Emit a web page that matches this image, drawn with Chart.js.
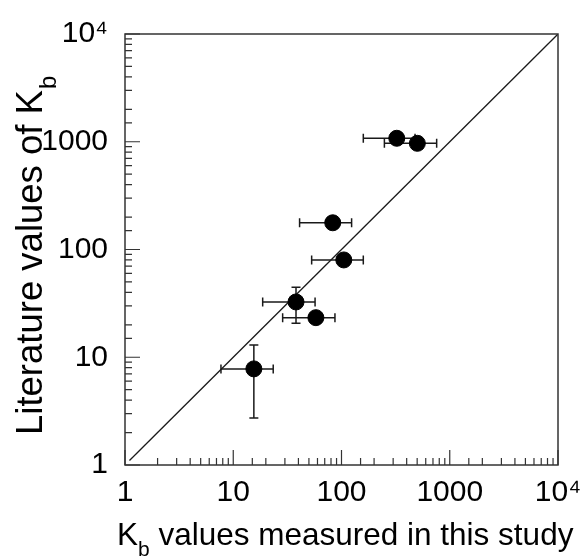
<!DOCTYPE html>
<html>
<head>
<meta charset="utf-8">
<script src="https://cdn.jsdelivr.net/npm/chart.js@4"></script>
<style>
  html, body { margin: 0; padding: 0; background: #fff; }
  #wrap { width: 582px; height: 559px; position: relative; }
</style>
</head>
<body>
<div id="wrap"><canvas id="kbChart"></canvas></div>
<script>
// Kb: valores medidos (x) vs literatura (y)
const pointsX = [15.5, 38, 58, 83, 105, 324, 502];
const pointsY = [7.8, 32.6, 23.3, 177, 80, 1077, 967];
const xErrLow = [7.7, 18.7, 28.6, 41, 53, 159, 249];
const xErrHigh = [23.4, 57, 87, 124, 159, 478, 757];
const yErrLow = [2.73, 20.7, null, null, null, null, null];
const yErrHigh = [13, 44.6, null, null, null, null, null];
const diagX = [1.1, 10000];
const diagY = [1.1, 10000];
const majorTicks = [1, 10, 100, 1000, 10000];
const tickLabels = ['1', '10', '100', '1000', '10\u2074'];

const FONT = "'Liberation Sans', Arial, sans-serif";
const INK = '#1a1a1a';

function tickLabel(value) {
  const i = majorTicks.indexOf(Math.round(value));
  if (i >= 0 && Math.abs(value - majorTicks[i]) < 1e-6) return tickLabels[i];
  return '';
}
function isMajor(v) {
  const l = Math.log10(v);
  return Math.abs(l - Math.round(l)) < 1e-9;
}

// barras de erro (antes dos pontos)
const errorBars = {
  id: 'errorBars',
  beforeDatasetsDraw(chart) {
    const { ctx, scales: { x, y } } = chart;
    const cap = 4.5;
    ctx.save();
    ctx.strokeStyle = INK;
    ctx.lineWidth = 1.5;
    pointsX.forEach((vx, i) => {
      const px = x.getPixelForValue(vx), py = y.getPixelForValue(pointsY[i]);
      const x1 = x.getPixelForValue(xErrLow[i]), x2 = x.getPixelForValue(xErrHigh[i]);
      ctx.beginPath();
      ctx.moveTo(x1, py); ctx.lineTo(x2, py);
      ctx.moveTo(x1, py - cap); ctx.lineTo(x1, py + cap);
      ctx.moveTo(x2, py - cap); ctx.lineTo(x2, py + cap);
      ctx.stroke();
      if (yErrLow[i] != null) {
        const y1 = y.getPixelForValue(yErrLow[i]), y2 = y.getPixelForValue(yErrHigh[i]);
        ctx.beginPath();
        ctx.moveTo(px, y1); ctx.lineTo(px, y2);
        ctx.moveTo(px - cap, y1); ctx.lineTo(px + cap, y1);
        ctx.moveTo(px - cap, y2); ctx.lineTo(px + cap, y2);
        ctx.stroke();
      }
    });
    ctx.restore();
  }
};

// moldura, ticks para dentro e títulos com subscrito
const frameAndTitles = {
  id: 'frameAndTitles',
  afterDraw(chart) {
    const { ctx, chartArea: a, scales: { x, y } } = chart;
    ctx.save();
    ctx.strokeStyle = '#333';
    ctx.lineWidth = 1.5;
    ctx.strokeRect(a.left, a.top, a.right - a.left, a.bottom - a.top);

    ctx.lineWidth = 1.2;
    ctx.beginPath();
    x.ticks.forEach(t => {
      const px = x.getPixelForValue(t.value);
      const len = isMajor(t.value) ? 15 : 7;
      ctx.moveTo(px, a.bottom); ctx.lineTo(px, a.bottom - len);
    });
    y.ticks.forEach(t => {
      const py = y.getPixelForValue(t.value);
      const len = isMajor(t.value) ? 15 : 7;
      ctx.moveTo(a.left, py); ctx.lineTo(a.left + len, py);
    });
    ctx.stroke();

    ctx.fillStyle = '#000';
    ctx.textBaseline = 'alphabetic';
    ctx.textAlign = 'left';
    // título do eixo x
    ctx.font = '31.5px ' + FONT;
    let tx = 117;
    ctx.fillText('K', tx, 545);
    tx += ctx.measureText('K').width;
    ctx.font = '21px ' + FONT;
    ctx.fillText('b', tx, 556);
    tx += ctx.measureText('b').width;
    ctx.font = '31.5px ' + FONT;
    ctx.fillText(' values measured in this study', tx, 545);

    // título do eixo y
    ctx.translate(42, 435);
    ctx.rotate(-Math.PI / 2);
    ctx.font = '36.5px ' + FONT;
    const main = 'Literature values of K';
    ctx.fillText(main, 0, 0);
    const w = ctx.measureText(main).width;
    ctx.font = '24px ' + FONT;
    ctx.fillText('b', w + 1, 14);
    ctx.restore();
  }
};

const axisBase = {
  type: 'logarithmic',
  min: 1,
  max: 10000,
  grid: { display: false, drawTicks: false },
  border: { display: false }
};

new Chart(document.getElementById('kbChart'), {
  type: 'scatter',
  data: {
    datasets: [
      {
        label: 'Kb',
        data: pointsX.map((v, i) => ({ x: v, y: pointsY[i] })),
        pointRadius: 8,
        pointHoverRadius: 8,
        backgroundColor: '#000',
        borderColor: '#000',
        order: 1
      },
      {
        label: 'y = x',
        data: diagX.map((v, i) => ({ x: v, y: diagY[i] })),
        showLine: true,
        pointRadius: 0,
        borderColor: INK,
        borderWidth: 1.3,
        order: 2
      }
    ]
  },
  options: {
    responsive: true,
    maintainAspectRatio: false,
    animation: false,
    layout: { padding: { top: 34, right: 24, left: 0, bottom: 0 } },
    plugins: { legend: { display: false }, tooltip: { enabled: false } },
    scales: {
      x: Object.assign({}, axisBase, {
        ticks: { autoSkip: false, maxRotation: 0, padding: 10, color: '#000',
                 font: { family: FONT, size: 30 }, callback: tickLabel },
        afterFit(s) { s.height = 94; s.paddingRight = 0; s.paddingLeft = 0; }
      }),
      y: Object.assign({}, axisBase, {
        ticks: { autoSkip: false, padding: 17, color: '#000',
                 font: { family: FONT, size: 30 }, callback: tickLabel },
        afterFit(s) { s.width = 125; s.paddingTop = 0; s.paddingBottom = 0; }
      })
    }
  },
  plugins: [errorBars, frameAndTitles]
});
</script>
</body>
</html>
